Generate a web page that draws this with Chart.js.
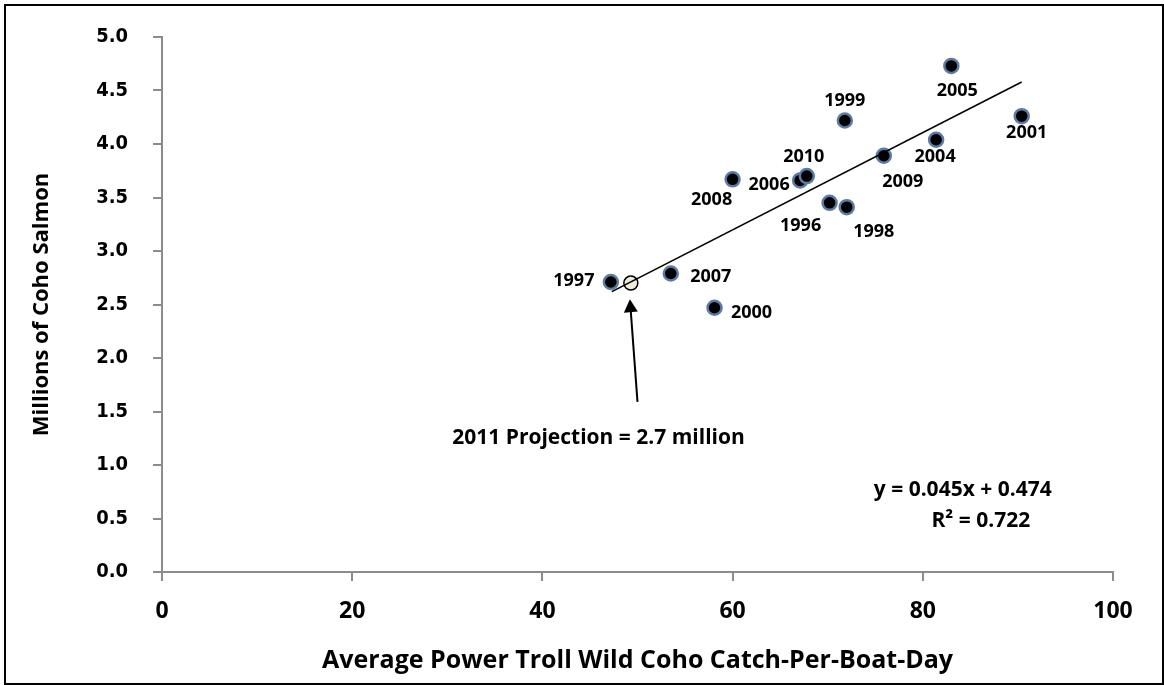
<!DOCTYPE html>
<html>
<head>
<meta charset="utf-8">
<script src="https://cdn.jsdelivr.net/npm/chart.js@4.4.1/dist/chart.umd.min.js"></script>
<style>
  html, body { margin: 0; padding: 0; background: #fff; }
  canvas { display: block; }
</style>
</head>
<body>
<canvas id="canvasGrafico" width="1164" height="685"></canvas>
<script>
// anos e valores
const anos = ['1996', '1997', '1998', '1999', '2000', '2001', '2004', '2005', '2006', '2007', '2008', '2009', '2010'];
const cpue = [70.2, 47.2, 72.0, 71.8, 58.1, 90.4, 81.4, 83.0, 67.1, 53.5, 60.0, 75.9, 67.8];
const coho = [3.45, 2.71, 3.41, 4.22, 2.47, 4.26, 4.04, 4.73, 3.66, 2.79, 3.67, 3.89, 3.70];

// linha de tendencia (pontas)
const tendX = [47.3, 90.4];
const tendY = [2.62, 4.58];

// projecao 2011
const projX = [49.3];
const projY = [2.70];

const xTicks = [0, 20, 40, 60, 80, 100];
const yTicks = [0, 0.5, 1, 1.5, 2, 2.5, 3, 3.5, 4, 4.5, 5];

// deslocamento dos rotulos (px) em relacao ao ponto
const rotuloPos = [
  [-29, 23], [-37, -1], [27, 25], [0, -20], [37, 5], [5, 17], [-1, 17],
  [6, 25], [-31, 4], [40, 3], [-21, 21], [19, 26], [-3, -19]
];

const pontos = cpue.map(function (v, i) { return { x: v, y: coho[i] }; });
const tendencia = tendX.map(function (v, i) { return { x: v, y: tendY[i] }; });
const projecao = projX.map(function (v, i) { return { x: v, y: projY[i] }; });

const cinza = '#8c8c8c';
const fonteTexto = '"Open Sans", "DejaVu Sans", sans-serif';

const extras = {
  id: 'extras',
  afterDatasetsDraw: function (chart) {
    const ctx = chart.ctx;
    const sx = chart.scales.x;
    const sy = chart.scales.y;
    ctx.save();
    ctx.fillStyle = '#000';
    ctx.textAlign = 'center';
    ctx.textBaseline = 'middle';

    // rotulos dos anos
    ctx.font = 'bold 18px ' + fonteTexto;
    for (var i = 0; i < anos.length; i++) {
      var px = sx.getPixelForValue(cpue[i]);
      var py = sy.getPixelForValue(coho[i]);
      ctx.fillText(anos[i], px + rotuloPos[i][0], py + rotuloPos[i][1]);
    }

    // seta da projecao
    var x0 = sx.getPixelForValue(50.0), y0 = sy.getPixelForValue(1.59);
    var x1 = sx.getPixelForValue(49.2), y1 = sy.getPixelForValue(2.55);
    var ang = Math.atan2(y1 - y0, x1 - x0);
    var tam = 13;
    ctx.strokeStyle = '#000';
    ctx.lineWidth = 2;
    ctx.beginPath();
    ctx.moveTo(x0, y0);
    ctx.lineTo(x1 - Math.cos(ang) * tam * 0.8, y1 - Math.sin(ang) * tam * 0.8);
    ctx.stroke();
    ctx.beginPath();
    ctx.moveTo(x1, y1);
    ctx.lineTo(x1 - Math.cos(ang) * tam + Math.sin(ang) * 7, y1 - Math.sin(ang) * tam - Math.cos(ang) * 7);
    ctx.lineTo(x1 - Math.cos(ang) * tam - Math.sin(ang) * 7, y1 - Math.sin(ang) * tam + Math.cos(ang) * 7);
    ctx.closePath();
    ctx.fill();

    ctx.font = 'bold 21px ' + fonteTexto;
    ctx.fillText('2011 Projection = 2.7 million', sx.getPixelForValue(45.9), sy.getPixelForValue(1.25));

    ctx.font = 'bold 21px ' + fonteTexto;
    ctx.fillText('y = 0.045x + 0.474', sx.getPixelForValue(84.2), sy.getPixelForValue(0.77));
    ctx.fillText('R² = 0.722', sx.getPixelForValue(86.1), sy.getPixelForValue(0.475));

    ctx.restore();
  },
  afterDraw: function (chart) {
    const ctx = chart.ctx;
    ctx.save();
    ctx.strokeStyle = '#000';
    ctx.lineWidth = 2;
    ctx.strokeRect(5, 5, 1158, 679);
    ctx.restore();
  }
};

const data = {
  datasets: [
    {
      label: 'Tendencia',
      type: 'line',
      data: tendencia,
      borderColor: '#000',
      borderWidth: 1.6,
      pointRadius: 0,
      fill: false
    },
    {
      label: 'Projecao 2011',
      data: projecao,
      pointRadius: 7,
      pointBackgroundColor: '#efecdd',
      pointBorderColor: '#000',
      pointBorderWidth: 1.5
    },
    {
      label: 'Coho',
      data: pontos,
      pointRadius: 7,
      pointBackgroundColor: '#000',
      pointBorderColor: '#5a7ba6',
      pointBorderWidth: 2.5
    }
  ]
};

const config = {
  type: 'scatter',
  data: data,
  options: {
    responsive: false,
    animation: false,
    layout: {
      padding: { top: 32, right: 51, left: 0, bottom: 0 }
    },
    plugins: {
      legend: { display: false },
      tooltip: { enabled: false }
    },
    scales: {
      x: {
        type: 'linear',
        min: 0,
        max: 100,
        afterBuildTicks: function (scale) {
          scale.ticks = xTicks.map(function (v) { return { value: v }; });
        },
        afterFit: function (scale) { scale.height = 113; },
        border: { color: cinza, width: 2 },
        grid: { display: true, drawOnChartArea: false, drawTicks: true, tickLength: 9, color: cinza, lineWidth: 2 },
        ticks: {
          color: '#000',
          padding: 17,
          font: { family: fonteTexto, size: 23, weight: 'bold' }
        },
        title: {
          display: true,
          text: 'Average Power Troll Wild Coho Catch-Per-Boat-Day',
          color: '#000',
          font: { family: fonteTexto, size: 25, weight: 'bold' },
          padding: { top: 4, bottom: 9 }
        }
      },
      y: {
        type: 'linear',
        min: 0,
        max: 5,
        afterBuildTicks: function (scale) {
          scale.ticks = yTicks.map(function (v) { return { value: v }; });
        },
        afterFit: function (scale) { scale.width = 162; },
        border: { color: cinza, width: 2 },
        grid: { display: true, drawOnChartArea: false, drawTicks: true, tickLength: 9, color: cinza, lineWidth: 2 },
        ticks: {
          color: '#000',
          padding: 25,
          font: { family: '"DejaVu Sans Condensed", "DejaVu Sans", sans-serif', size: 20, weight: 'bold' },
          callback: function (v) { return Number(v).toFixed(1); }
        },
        title: {
          display: true,
          text: 'Millions of Coho Salmon',
          color: '#000',
          font: { family: fonteTexto, size: 22, weight: 'bold' },
          padding: { top: 29, bottom: 4 }
        }
      }
    }
  },
  plugins: [extras]
};

const graficoDash = new Chart(
  document.getElementById('canvasGrafico'),
  config
);
</script>
</body>
</html>
